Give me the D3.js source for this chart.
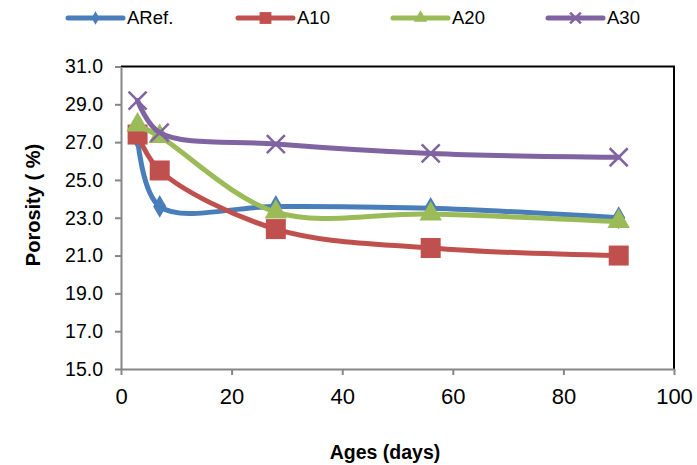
<!DOCTYPE html>
<html><head><meta charset="utf-8">
<script src="https://cdn.jsdelivr.net/npm/d3@7"></script>
<style>body{margin:0;background:#fff}svg{display:block}</style>
</head><body>
<script>
const ages = [3, 7, 28, 56, 90];
const seriesNames = ["ARef.", "A10", "A20", "A30"];
const aRef = [27.2, 23.6, 23.6, 23.5, 23.0];
const a10 = [27.4, 25.5, 22.4, 21.4, 21.0];
const a20 = [27.9, 27.3, 23.3, 23.2, 22.8];
const a30 = [29.2, 27.5, 26.9, 26.4, 26.2];
const yTicks = [15, 17, 19, 21, 23, 25, 27, 29, 31];
const xTicks = [0, 20, 40, 60, 80, 100];
const colors = ["#4A7EBB", "#C0504D", "#9BBB59", "#8064A2"];
const symbols = ["diamond", "square", "triangle", "cross"];

const W = 697, H = 465;
const svg = d3.select("body").append("svg").attr("width", W).attr("height", H);
const x = d3.scaleLinear().domain([0, 100]).range([121, 674]);
const y = d3.scaleLinear().domain([15, 31]).range([369, 66.5]);
const font = "'Liberation Sans', Arial, sans-serif";

// plot border (top/right black)
svg.append("path").attr("d", `M${x(0)},${y(31)}H${x(100)}V${y(15)}`)
  .attr("fill", "none").attr("stroke", "#000").attr("stroke-width", 2);

// axes
const gy = svg.append("g").attr("transform", `translate(${x(0)},0)`)
  .call(d3.axisLeft(y).tickValues(yTicks).tickFormat(d3.format(".1f")).tickSize(6).tickSizeOuter(0));
const gx = svg.append("g").attr("transform", `translate(0,${y(15)})`)
  .call(d3.axisBottom(x).tickValues(xTicks).tickFormat(d3.format("d")).tickSize(6).tickSizeOuter(0));
[gx, gy].forEach(g => {
  g.select(".domain").attr("stroke", "#868686").attr("stroke-width", 2);
  g.selectAll(".tick line").attr("stroke", "#868686").attr("stroke-width", 2);
  g.selectAll("text").attr("fill", "#000").attr("font-family", font);
});
gy.selectAll("text").attr("font-size", 19.5).attr("x", -18);
gx.selectAll("text").attr("font-size", 22).attr("dy", "1.2em");

// titles
svg.append("text").attr("x", 385).attr("y", 459).attr("text-anchor", "middle")
  .attr("font-family", font).attr("font-weight", "bold").attr("font-size", 19.5).text("Ages (days)");
svg.append("text").attr("transform", `translate(40,205) rotate(-90)`)
  .attr("text-anchor", "middle").attr("font-family", font).attr("font-weight", "bold")
  .attr("font-size", 20).text("Porosity ( %)");

const data = [aRef, a10, a20, a30];
const line = d3.line().x((d, i) => x(ages[i])).y(d => y(d)).curve(d3.curveCatmullRom.alpha(0.5));

function marker(g, type, color, cx, cy, scale) {
  const s = scale || 1;
  if (type === "diamond") {
    g.append("path").attr("d", d3.symbol(d3.symbolDiamond, 150 * s)())
      .attr("transform", `translate(${cx},${cy})`).attr("fill", color);
  } else if (type === "square") {
    g.append("path").attr("d", d3.symbol(d3.symbolSquare, 400 * s)())
      .attr("transform", `translate(${cx},${cy})`).attr("fill", color);
  } else if (type === "triangle") {
    g.append("path").attr("d", d3.symbol(d3.symbolTriangle, 220 * s)())
      .attr("transform", `translate(${cx},${cy})`).attr("fill", color);
  } else {
    const r = 9 * Math.sqrt(s);
    g.append("path").attr("d", `M${-r},${-r}L${r},${r}M${-r},${r}L${r},${-r}`)
      .attr("transform", `translate(${cx},${cy})`).attr("stroke", color).attr("stroke-width", 2.5).attr("fill", "none");
  }
}

data.forEach((vals, k) => {
  const g = svg.append("g");
  g.append("path").attr("d", line(vals)).attr("fill", "none").attr("stroke", colors[k])
    .attr("stroke-width", 5).attr("stroke-linejoin", "round").attr("stroke-linecap", "round");
  vals.forEach((v, i) => marker(g, symbols[k], colors[k], x(ages[i]), y(v)));
});

// legend
const legX = [68, 238, 393, 548];
seriesNames.forEach((n, k) => {
  const g = svg.append("g");
  g.append("line").attr("x1", legX[k]).attr("x2", legX[k] + 55).attr("y1", 18).attr("y2", 18)
    .attr("stroke", colors[k]).attr("stroke-width", 5).attr("stroke-linecap", "round");
  marker(g, symbols[k], colors[k], legX[k] + 27.5, 18, 0.35);
  g.append("text").attr("x", legX[k] + 59).attr("y", 18).attr("dy", "0.35em")
    .attr("font-family", font).attr("font-size", 18.5).text(n);
});
</script>
</body></html>
